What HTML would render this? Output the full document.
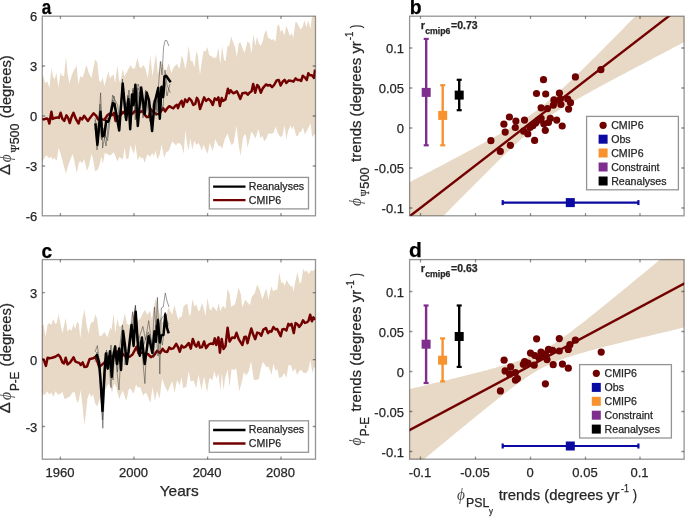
<!DOCTYPE html><html><head><meta charset="utf-8"><style>html,body{margin:0;padding:0;background:#fff;}svg{display:block;will-change:transform;}text{font-family:"Liberation Sans",sans-serif;fill:#262626;stroke:#262626;stroke-width:0.25px;}.s{font-family:"Liberation Serif",serif;}.k text{fill:#000;stroke:#000;}.p{stroke:none;fill-opacity:0.85;}</style></head><body>
<svg width="685" height="517" viewBox="0 0 685 517">
<defs>
<clipPath id="cla"><rect x="42.3" y="16.2" width="273.2" height="199.6"/></clipPath>
<clipPath id="clc"><rect x="42.3" y="259.6" width="273.2" height="199.6"/></clipPath>
<clipPath id="clb"><rect x="409.6" y="16.2" width="274.5" height="199.6"/></clipPath>
<clipPath id="cld"><rect x="409.6" y="259.6" width="274.5" height="199.6"/></clipPath>
</defs>
<g clip-path="url(#cla)">
<polygon points="42.0,74.9 43.5,77.0 45.1,83.1 46.6,82.1 47.6,81.8 49.4,87.9 51.4,68.3 53.0,76.5 54.5,79.5 56.5,72.9 58.4,87.7 60.4,72.9 62.4,75.9 64.0,75.9 66.0,56.5 67.5,72.4 69.4,83.6 71.6,75.4 73.9,70.3 76.7,65.7 78.3,84.6 80.3,75.9 82.4,78.0 84.1,72.9 86.5,64.7 89.0,73.4 91.6,78.0 93.1,69.8 95.1,59.6 97.2,62.2 99.2,80.5 100.8,82.6 102.8,77.5 104.3,86.2 108.4,71.4 110.0,78.7 111.0,76.7 113.6,74.6 115.1,82.8 117.4,64.9 119.0,79.7 120.2,82.8 122.8,69.0 124.3,76.2 126.9,72.1 130.4,64.9 133.0,69.0 135.0,68.0 137.4,57.8 139.6,67.0 141.2,68.0 143.2,64.9 145.3,68.0 147.8,78.2 150.4,55.2 152.4,76.2 156.0,53.7 158.0,74.6 161.1,60.8 163.1,64.4 165.2,73.6 168.8,62.9 171.3,73.1 173.9,67.0 176.9,63.9 179.5,68.9 181.6,55.7 183.1,58.7 185.4,69.5 187.2,58.7 188.7,45.4 190.8,61.8 192.3,60.3 194.4,67.4 196.4,51.1 197.9,55.7 200.0,75.0 201.5,63.8 203.5,51.1 205.6,51.6 207.4,47.0 209.2,55.1 211.2,56.2 213.8,57.7 216.3,57.7 218.4,48.0 220.4,64.3 222.1,45.9 224.0,59.7 225.5,61.3 227.6,45.4 229.1,46.5 231.1,36.2 233.7,43.9 235.2,47.5 236.8,57.2 238.8,42.9 240.3,42.4 244.4,53.1 246.0,47.8 247.5,41.2 249.6,43.2 251.6,53.4 253.4,34.0 255.4,45.8 257.0,36.6 258.5,42.7 260.5,45.8 262.9,40.7 264.4,33.5 266.4,29.9 268.0,38.1 270.0,38.6 271.5,40.1 273.6,39.1 275.6,41.7 277.2,26.3 278.9,24.3 280.7,32.0 282.3,29.4 284.3,35.5 286.4,25.8 288.4,31.5 289.9,36.1 291.8,33.0 293.2,38.1 295.6,21.8 297.1,22.8 300.2,28.9 302.2,27.9 304.5,20.2 306.3,27.4 308.3,20.2 310.4,28.9 311.9,17.2 313.4,16.1 315.5,16.1 315.5,133.5 314.5,134.5 312.2,137.1 310.6,123.3 307.8,128.9 304.8,134.5 302.9,126.9 301.4,131.5 299.6,132.0 297.6,136.6 296.1,135.5 293.5,125.8 292.0,129.9 290.7,125.3 287.9,131.5 286.4,140.1 284.6,125.3 282.3,136.1 280.2,137.1 277.7,133.0 275.6,126.4 273.6,133.0 271.0,133.7 268.3,133.5 266.4,138.6 264.4,141.2 262.4,136.1 260.3,138.1 258.5,128.9 255.4,138.6 253.4,134.5 251.3,131.5 249.6,139.6 247.5,147.8 246.0,135.5 244.6,133.9 242.9,138.5 240.5,155.9 238.8,145.7 236.5,125.7 233.7,143.1 231.6,145.1 229.6,140.5 227.6,133.4 225.0,138.5 222.1,148.7 220.4,145.7 218.9,146.2 217.3,143.6 215.3,139.0 212.7,151.3 209.7,143.1 207.6,153.8 205.6,149.7 203.5,144.6 201.7,150.8 200.0,145.7 198.4,143.1 196.4,145.1 194.3,140.5 192.3,149.7 190.3,138.0 188.7,150.3 187.2,144.6 185.4,130.3 183.6,153.8 181.6,145.7 180.0,143.6 178.0,143.1 175.9,145.3 172.3,141.2 169.3,149.4 168.0,151.5 166.2,152.0 164.2,158.1 161.6,144.8 159.6,154.5 157.5,159.6 155.5,150.4 153.9,156.1 152.1,153.0 150.1,157.1 148.3,154.5 146.8,155.5 144.7,162.7 142.9,157.6 141.2,158.6 139.6,156.1 137.6,160.7 135.5,144.3 134.0,154.0 132.5,150.4 130.4,145.3 128.4,158.6 126.3,159.1 124.6,147.4 122.8,159.6 121.0,158.1 119.4,157.1 117.4,161.2 115.6,156.6 113.6,152.0 111.5,154.5 109.4,155.4 107.4,153.9 104.8,152.9 102.8,164.1 101.3,156.5 99.7,164.6 97.7,169.7 95.1,171.3 93.1,159.5 91.6,153.4 89.0,165.7 87.0,170.8 84.1,159.0 82.1,163.6 80.3,161.1 78.8,163.1 76.7,173.3 74.5,161.6 72.7,153.9 70.1,160.5 68.1,165.7 66.0,173.8 64.0,166.7 62.4,160.5 60.4,152.9 58.6,147.8 56.8,160.5 55.5,159.5 54.1,157.5 52.7,160.0 51.2,156.5 49.4,158.5 47.6,156.5 46.1,155.4 43.5,159.5 42.0,162.6" fill="#E7D9C5"/>
<polyline points="42.0,118.9 44.0,119.4 46.6,118.4 48.1,119.4 49.4,123.5 51.4,111.8 52.7,118.9 54.8,117.9 57.3,117.4 58.9,117.9 60.6,112.8 62.4,118.9 64.3,120.9 66.5,115.3 68.1,117.9 69.8,123.0 71.6,116.9 73.5,112.8 75.2,117.4 76.7,120.4 78.6,123.5 80.3,117.9 82.1,119.4 84.1,115.8 85.7,117.9 88.0,120.9 90.0,117.9 93.6,113.3 96.2,115.8 98.0,119.4 100.2,117.9 102.3,119.4 104.3,119.9 107.4,115.3 109.4,113.8 112.0,115.3 114.1,112.9 115.6,121.0 118.0,116.5 120.2,115.4 123.3,111.9 126.0,115.0 129.0,112.0 132.0,114.0 135.0,111.0 138.0,113.0 140.7,111.9 142.7,110.8 144.7,114.9 146.8,117.0 148.8,117.0 150.9,109.3 153.5,112.0 156.0,113.9 159.0,113.9 163.1,108.3 165.2,111.4 167.2,108.3 169.3,106.2 171.3,107.3 173.4,108.3 175.4,105.7 176.9,104.7 178.0,108.1 179.5,104.0 181.6,100.9 183.1,106.6 185.2,99.4 187.2,102.0 189.2,98.4 191.3,100.4 193.3,105.0 195.2,104.0 196.9,97.9 198.4,100.4 200.0,109.1 202.0,103.5 204.1,97.4 206.1,100.9 208.5,98.9 210.7,100.9 212.7,105.0 214.8,98.4 216.6,99.9 218.4,97.4 219.9,106.1 221.7,97.9 223.0,100.9 225.5,99.4 227.9,88.7 229.1,93.3 230.6,90.2 233.2,93.3 234.7,92.8 236.8,91.2 238.3,94.3 240.3,98.9 242.4,93.3 245.4,92.8 246.0,92.7 247.8,94.7 250.1,92.2 251.6,91.2 253.2,84.0 255.2,92.7 257.2,85.0 258.8,86.6 260.8,92.7 262.9,88.1 265.9,84.5 268.0,85.5 270.0,85.0 272.1,87.1 274.1,85.0 276.7,80.4 278.7,79.9 280.7,85.5 282.8,81.5 284.6,79.9 286.4,83.0 288.9,80.4 291.5,80.9 293.5,81.5 295.6,78.4 297.6,79.9 299.6,79.9 301.2,80.9 302.7,75.8 304.8,77.4 306.8,79.9 308.3,73.3 309.9,75.3 311.9,75.3 314.0,77.9 315.0,69.7" fill="none" stroke="#730000" stroke-width="2.5" stroke-linejoin="round"/>
<polyline points="95.0,128.0 97.0,140.0 99.0,118.0 100.6,92.8 102.0,125.0 102.6,148.1 105.0,135.0 107.6,140.6 110.0,120.0 112.6,95.0 115.0,100.0 117.7,105.4 120.0,125.0 122.4,79.0 124.5,108.0 127.0,102.0 129.0,90.0 131.0,115.0 133.0,90.0 135.5,110.0 138.0,88.0 141.0,95.0 143.0,110.0 146.0,95.0 148.0,110.0 150.0,122.0 152.0,108.0 154.0,100.0 156.0,110.0 158.0,92.0 160.4,61.4 162.0,75.0 163.6,47.0 165.1,40.6 166.8,40.6 168.9,46.0" fill="none" stroke="#333" stroke-opacity="0.7" stroke-width="0.7" stroke-linejoin="round"/>
<polyline points="95.0,120.0 97.0,150.0 99.5,124.0 101.5,140.0 103.0,128.0 105.0,138.0 107.0,118.0 109.0,120.0 111.0,110.0 113.0,100.0 115.0,106.0 117.0,118.0 119.0,130.0 121.0,112.0 122.8,86.0 125.0,118.0 128.0,96.0 130.5,122.0 133.0,88.0 135.3,120.0 138.0,84.0 141.0,92.0 143.0,118.0 145.5,90.0 148.0,100.0 150.0,119.0 152.0,128.0 154.0,106.0 156.2,116.0 158.0,95.0 160.5,118.0 162.0,85.0 163.8,98.0 165.0,82.0 167.0,96.0 169.0,88.0 170.0,84.0" fill="none" stroke="#333" stroke-opacity="0.7" stroke-width="0.7" stroke-linejoin="round"/>
<polyline points="95.0,118.0 97.5,130.0 100.0,104.0 103.0,130.0 106.0,146.0 108.0,128.0 111.0,106.0 114.0,96.0 116.0,110.0 119.0,120.0 121.0,100.0 123.0,90.0 126.0,112.0 128.0,95.0 131.0,125.0 134.0,92.0 136.0,118.0 139.0,92.0 142.0,100.0 144.0,115.0 147.0,96.0 150.0,105.0 153.0,125.0 156.0,100.0 158.0,112.0 160.0,98.0 163.0,110.0 165.0,70.0 167.0,85.0 170.4,92.8" fill="none" stroke="#333" stroke-opacity="0.7" stroke-width="0.7" stroke-linejoin="round"/>
<polyline points="95.4,123.3 97.4,145.0 100.5,111.8 102.4,136.5 104.2,135.0 106.2,121.0 108.2,121.8 110.1,116.4 112.9,103.2 114.5,104.0 119.2,130.5 122.7,83.5 126.2,120.0 128.5,99.2 130.2,129.3 132.0,94.6 133.5,105.0 135.4,84.7 137.8,125.9 141.2,87.6 144.7,114.3 146.7,92.5 149.0,100.2 152.1,131.1 154.4,103.3 156.4,95.6 158.3,87.8 159.8,118.8 161.4,87.1 162.9,97.1 163.6,92.0 164.4,76.5 166.1,75.8 170.7,82.2" fill="none" stroke="#000" stroke-width="2.5" stroke-linejoin="round"/>
</g>
<g clip-path="url(#clc)">
<polygon points="42.0,325.5 43.5,324.5 45.6,336.8 47.6,324.5 49.7,323.0 51.4,325.0 53.2,318.9 55.3,324.0 56.8,323.0 58.6,314.3 60.4,323.5 62.4,333.2 65.7,317.9 67.5,331.7 69.4,329.1 71.6,330.7 73.5,324.0 75.2,329.1 77.3,321.5 78.8,324.0 80.3,338.3 82.4,318.9 84.4,309.2 86.5,324.5 88.5,333.7 90.5,324.0 92.1,322.0 93.6,322.0 95.3,314.3 97.2,319.4 99.2,335.8 101.8,335.8 104.3,331.7 107.4,337.3 110.3,327.6 111.5,329.9 113.6,313.5 115.3,332.9 117.4,318.6 119.2,326.8 121.2,325.8 122.8,322.7 124.8,313.0 126.9,323.7 129.9,325.3 132.0,312.0 133.5,315.5 135.5,312.0 138.1,320.7 140.7,318.1 142.7,313.5 145.0,310.0 147.4,314.8 150.1,310.7 151.8,319.5 153.8,307.3 155.8,298.5 158.2,308.7 159.9,314.8 161.9,322.0 166.0,322.0 167.3,312.1 168.3,307.3 172.1,314.8 174.4,305.3 178.2,320.0 180.0,317.0 181.8,316.5 183.6,306.3 185.3,304.7 187.2,303.2 189.4,316.0 190.7,313.9 192.5,299.1 194.3,306.3 196.4,304.7 198.4,311.4 199.9,309.9 202.0,302.7 203.5,307.8 205.5,316.0 207.4,298.1 209.6,308.8 211.2,310.4 212.7,306.3 214.7,308.3 216.8,311.4 218.6,302.7 220.4,311.4 222.1,306.8 223.7,306.3 225.5,309.3 227.5,288.9 229.6,293.5 231.1,306.8 234.7,304.7 236.2,299.6 238.5,287.4 240.8,294.0 242.3,307.3 245.4,299.6 247.0,302.0 250.1,305.0 251.6,296.9 254.7,293.3 257.2,284.6 259.3,288.7 262.4,299.5 264.4,293.3 266.4,288.2 268.3,299.5 271.5,286.2 273.1,291.3 275.6,289.7 277.2,289.7 279.2,272.4 281.3,283.1 282.8,282.1 284.6,285.7 286.7,280.0 288.9,284.1 291.0,286.2 292.5,286.7 293.5,291.8 295.6,280.0 297.6,271.9 299.6,283.6 301.2,282.1 303.2,268.8 305.1,271.9 306.8,270.3 308.5,273.9 311.4,270.3 313.4,271.3 315.5,267.8 315.5,368.8 314.3,366.8 312.4,372.9 310.4,360.1 308.3,369.9 306.3,372.9 303.7,372.9 301.2,369.9 299.1,370.9 297.1,375.0 295.1,368.3 293.0,371.9 291.0,365.3 288.4,365.3 286.4,378.0 284.3,372.9 281.8,377.0 279.2,378.0 277.2,368.8 275.6,370.9 273.4,363.7 271.5,375.0 270.0,369.9 268.0,366.3 266.4,367.3 264.9,364.7 262.9,361.7 260.8,368.8 258.8,379.0 256.2,380.0 253.7,379.6 251.1,361.2 248.6,371.9 246.0,375.5 243.9,372.1 241.9,381.3 239.3,391.5 236.2,368.5 233.7,370.0 231.6,369.0 229.6,386.9 227.6,369.5 225.0,378.7 223.5,390.0 221.9,372.6 220.4,391.0 218.4,373.6 216.3,378.7 214.3,371.1 212.2,380.8 210.7,378.2 209.2,378.7 207.1,392.5 204.1,376.2 201.5,390.0 198.4,374.6 196.4,387.9 193.3,380.3 190.8,381.8 188.7,371.1 186.2,386.9 183.1,387.9 181.6,377.2 179.5,385.4 178.0,381.8 176.9,380.4 174.6,392.7 172.3,380.9 167.7,391.7 164.7,386.1 162.1,378.4 159.6,398.8 157.0,390.7 155.0,400.9 152.4,387.1 150.4,402.9 146.8,393.7 145.3,392.7 143.2,395.8 140.1,387.1 137.6,387.6 136.1,384.5 133.5,393.7 130.4,388.6 128.9,389.1 126.3,400.9 122.8,390.7 121.2,393.7 119.2,399.3 116.1,386.6 114.1,383.5 112.0,392.7 110.0,385.5 108.4,384.1 105.4,389.2 103.0,392.0 100.8,395.0 99.2,400.4 97.2,406.6 95.1,403.5 93.1,394.3 91.1,396.9 89.5,392.8 87.5,398.4 85.9,413.7 84.4,425.0 82.4,405.0 80.6,390.2 78.8,400.4 77.3,403.0 74.7,392.3 72.7,392.3 70.1,396.3 68.6,396.9 66.5,398.4 64.5,398.9 62.4,391.8 59.4,394.8 57.3,393.8 55.5,391.2 53.2,396.9 51.2,392.3 49.4,394.8 47.3,391.2 45.6,393.8 44.0,395.3 42.0,393.3" fill="#E7D9C5"/>
<polyline points="42.0,359.3 43.8,359.8 45.9,365.9 47.6,357.8 49.7,358.3 52.2,357.8 55.3,356.8 58.4,354.7 60.4,357.3 62.4,362.4 64.0,363.4 65.7,357.8 67.5,364.4 70.1,362.4 71.6,360.3 73.5,357.3 75.2,361.3 77.3,362.4 79.3,362.9 80.8,364.9 82.7,362.4 84.4,367.0 87.0,366.5 89.5,359.3 91.1,358.8 93.1,358.3 94.6,357.3 96.7,359.3 99.2,367.0 102.3,364.4 105.0,362.0 108.0,357.0 110.0,356.6 114.1,356.6 117.7,351.5 122.3,353.5 125.0,356.0 127.9,357.1 129.9,356.6 132.5,354.5 136.6,346.9 138.6,353.5 141.7,352.5 144.7,354.0 147.8,354.0 150.9,357.1 153.9,355.5 157.0,350.9 160.1,353.0 162.6,348.9 164.7,351.5 167.2,352.0 169.3,347.4 171.3,348.9 173.4,348.4 176.2,343.8 178.0,347.1 179.8,351.7 181.6,345.5 183.6,347.6 185.7,346.6 188.7,343.0 190.8,348.6 192.8,338.9 194.9,345.0 196.4,346.6 198.4,342.0 200.0,347.6 202.0,347.1 204.1,341.5 206.1,348.1 208.7,344.5 210.7,343.5 213.3,344.0 214.8,338.4 216.3,345.0 218.4,337.4 219.9,352.7 221.7,338.9 223.5,349.1 225.5,346.1 227.6,327.7 229.6,341.5 232.2,337.4 234.7,337.9 236.5,332.8 238.8,339.4 242.4,345.0 244.4,336.9 246.0,336.7 247.5,343.3 249.6,334.6 251.3,328.5 253.2,334.6 255.2,339.2 257.2,332.6 259.3,333.1 261.3,335.7 263.4,329.5 265.9,328.0 268.0,333.1 270.0,331.1 271.5,331.6 273.4,327.0 275.6,329.5 277.2,329.0 278.7,332.1 280.7,336.2 282.3,329.5 284.3,329.0 286.4,330.5 288.4,323.9 289.9,325.4 291.5,323.9 293.8,333.1 295.6,322.9 297.6,324.4 299.1,327.0 301.2,324.4 303.0,320.3 304.8,322.9 306.8,322.4 308.5,320.8 310.2,314.7 311.9,321.3 313.4,317.3 315.0,319.8" fill="none" stroke="#730000" stroke-width="2.5" stroke-linejoin="round"/>
<polyline points="95.0,352.0 97.4,345.6 100.0,368.0 102.8,428.3 105.0,380.0 107.0,352.0 109.0,362.0 111.0,387.6 113.0,352.0 115.0,345.0 117.0,372.0 119.0,390.0 121.0,352.0 123.0,332.0 125.0,350.0 127.0,365.0 129.0,350.0 132.7,311.7 135.0,330.0 138.0,345.0 141.0,340.0 144.9,383.6 147.0,338.0 150.0,334.0 152.0,350.0 154.5,307.0 156.0,330.0 157.4,297.4 158.6,330.0 159.8,374.0 161.3,308.0 163.2,307.0 165.3,293.0 167.1,301.3 169.0,307.0" fill="none" stroke="#333" stroke-opacity="0.7" stroke-width="0.7" stroke-linejoin="round"/>
<polyline points="95.0,362.0 97.0,352.0 99.0,365.0 102.5,420.0 104.8,372.0 106.2,358.0 108.5,360.0 110.5,356.0 112.5,370.0 114.6,352.0 117.5,364.0 120.3,356.0 122.7,338.0 125.2,352.0 127.7,358.0 130.0,345.0 132.7,330.0 135.4,306.3 137.3,332.0 140.3,348.0 143.3,346.0 145.3,340.0 148.3,332.0 150.3,340.0 153.4,342.0 155.4,336.0 158.2,318.0 159.9,336.0 162.4,345.0 165.4,320.0 168.5,326.0" fill="none" stroke="#333" stroke-opacity="0.7" stroke-width="0.7" stroke-linejoin="round"/>
<polyline points="95.0,356.0 97.5,360.0 100.0,362.0 102.3,405.0 104.5,365.0 106.5,350.0 109.0,368.0 111.0,345.0 113.0,380.0 115.0,345.0 117.5,372.0 120.0,345.0 122.5,325.0 125.0,365.0 128.0,350.0 130.5,335.0 133.0,322.0 135.5,305.0 137.5,345.0 140.0,335.0 142.9,326.4 145.5,340.0 148.7,320.6 150.5,335.0 153.5,358.0 155.5,325.0 158.0,356.0 160.0,322.0 162.0,318.0 163.8,316.0 165.3,312.0 166.5,320.0 168.5,324.0" fill="none" stroke="#333" stroke-opacity="0.7" stroke-width="0.7" stroke-linejoin="round"/>
<polyline points="95.5,357.0 97.0,355.0 99.0,362.0 100.5,380.0 102.5,411.0 104.5,372.0 105.9,353.6 107.7,368.7 110.0,351.3 111.7,376.8 113.5,355.0 115.2,346.7 116.9,364.0 119.2,348.4 121.0,369.9 123.1,331.0 125.0,345.5 126.8,364.0 128.5,352.0 131.5,325.1 133.6,346.0 135.7,311.8 138.0,346.0 139.8,355.7 141.9,337.6 144.7,364.1 148.6,336.2 152.4,352.9 154.5,331.3 155.9,341.8 157.9,320.2 159.8,342.5 161.4,335.5 163.5,334.8 165.3,314.6 167.0,327.9 168.7,333.4" fill="none" stroke="#000" stroke-width="2.5" stroke-linejoin="round"/>
</g>
<g clip-path="url(#clb)">
<polygon points="407.6,183.3 409.6,182.2 411.6,181.2 413.6,180.1 415.6,179.1 417.6,178.0 419.6,177.0 421.6,175.9 423.6,174.9 425.6,173.8 427.6,172.8 429.6,171.7 431.6,170.7 433.6,169.6 435.6,168.6 437.6,167.5 439.6,166.5 441.6,165.4 443.6,164.4 445.6,163.3 447.6,162.2 449.6,161.2 451.6,160.1 453.6,159.1 455.6,158.0 457.6,156.9 459.6,155.9 461.6,154.8 463.6,153.7 465.6,152.7 467.6,151.6 469.6,150.5 471.6,149.4 473.6,148.4 475.6,147.3 477.6,146.2 479.6,145.1 481.6,144.0 483.6,142.9 485.6,141.8 487.6,140.7 489.6,139.6 491.6,138.5 493.6,137.4 495.6,136.3 497.6,135.2 499.6,134.0 501.6,132.9 503.6,131.8 505.6,130.6 507.6,129.4 509.6,128.3 511.6,127.1 513.6,125.9 515.6,124.6 517.6,123.4 519.6,122.1 521.6,120.9 523.6,119.6 525.6,118.3 527.6,116.9 529.6,115.5 531.6,114.1 533.6,112.7 535.6,111.2 537.6,109.8 539.6,108.2 541.6,106.7 543.6,105.1 545.6,103.4 547.6,101.8 549.6,100.1 551.6,98.3 553.6,96.6 555.6,94.8 557.6,93.0 559.6,91.2 561.6,89.4 563.6,87.5 565.6,85.6 567.6,83.7 569.6,81.8 571.6,79.9 573.6,78.0 575.6,76.1 577.6,74.1 579.6,72.2 581.6,70.2 583.6,68.3 585.6,66.3 587.6,64.3 589.6,62.3 591.6,60.3 593.6,58.4 595.6,56.4 597.6,54.4 599.6,52.4 601.6,50.4 603.6,48.4 605.6,46.3 607.6,44.3 609.6,42.3 611.6,40.3 613.6,38.3 615.6,36.3 617.6,34.2 619.6,32.2 621.6,30.2 623.6,28.2 625.6,26.1 627.6,24.1 629.6,22.1 631.6,20.1 633.6,18.0 635.6,16.0 637.6,14.0 639.6,11.9 641.6,9.9 643.6,7.9 645.6,5.8 647.6,3.8 649.6,1.7 651.6,-0.3 653.6,-2.3 655.6,-4.4 657.6,-6.4 659.6,-8.5 661.6,-10.5 663.6,-12.5 665.6,-14.6 667.6,-16.6 669.6,-18.7 671.6,-20.7 673.6,-22.8 675.6,-24.8 677.6,-26.8 679.6,-28.9 681.6,-30.9 683.6,-33.0 685.6,-35.0 685.6,41.4 683.6,42.4 681.6,43.5 679.6,44.5 677.6,45.6 675.6,46.6 673.6,47.6 671.6,48.7 669.6,49.7 667.6,50.8 665.6,51.8 663.6,52.9 661.6,53.9 659.6,55.0 657.6,56.0 655.6,57.1 653.6,58.1 651.6,59.2 649.6,60.2 647.6,61.3 645.6,62.3 643.6,63.4 641.6,64.4 639.6,65.5 637.6,66.5 635.6,67.6 633.6,68.6 631.6,69.7 629.6,70.8 627.6,71.8 625.6,72.9 623.6,73.9 621.6,75.0 619.6,76.1 617.6,77.1 615.6,78.2 613.6,79.3 611.6,80.3 609.6,81.4 607.6,82.5 605.6,83.6 603.6,84.6 601.6,85.7 599.6,86.8 597.6,87.9 595.6,89.0 593.6,90.1 591.6,91.2 589.6,92.3 587.6,93.4 585.6,94.5 583.6,95.6 581.6,96.8 579.6,97.9 577.6,99.0 575.6,100.2 573.6,101.3 571.6,102.5 569.6,103.7 567.6,104.9 565.6,106.1 563.6,107.3 561.6,108.5 559.6,109.8 557.6,111.0 555.6,112.3 553.6,113.6 551.6,115.0 549.6,116.3 547.6,117.7 545.6,119.2 543.6,120.6 541.6,122.1 539.6,123.6 537.6,125.2 535.6,126.8 533.6,128.4 531.6,130.1 529.6,131.7 527.6,133.5 525.6,135.2 523.6,137.0 521.6,138.8 519.6,140.6 517.6,142.4 515.6,144.3 513.6,146.1 511.6,148.0 509.6,149.9 507.6,151.8 505.6,153.8 503.6,155.7 501.6,157.6 499.6,159.6 497.6,161.5 495.6,163.5 493.6,165.5 491.6,167.4 489.6,169.4 487.6,171.4 485.6,173.4 483.6,175.4 481.6,177.4 479.6,179.4 477.6,181.4 475.6,183.4 473.6,185.4 471.6,187.4 469.6,189.4 467.6,191.4 465.6,193.5 463.6,195.5 461.6,197.5 459.6,199.5 457.6,201.5 455.6,203.6 453.6,205.6 451.6,207.6 449.6,209.7 447.6,211.7 445.6,213.7 443.6,215.8 441.6,217.8 439.6,219.8 437.6,221.9 435.6,223.9 433.6,225.9 431.6,228.0 429.6,230.0 427.6,232.0 425.6,234.1 423.6,236.1 421.6,238.2 419.6,240.2 417.6,242.2 415.6,244.3 413.6,246.3 411.6,248.4 409.6,250.4 407.6,252.5" fill="#E7D9C5"/>
<line x1="407.6" y1="217.9" x2="686.1" y2="2.8" stroke="#730000" stroke-width="2.4"/>
<circle cx="543.5" cy="79.7" r="3.6" fill="#6E0000"/>
<circle cx="575.4" cy="76.9" r="3.6" fill="#6E0000"/>
<circle cx="600.9" cy="69.7" r="3.6" fill="#6E0000"/>
<circle cx="536.5" cy="93.5" r="3.6" fill="#6E0000"/>
<circle cx="545.7" cy="94.0" r="3.6" fill="#6E0000"/>
<circle cx="559.4" cy="93.1" r="3.6" fill="#6E0000"/>
<circle cx="553.9" cy="99.9" r="3.6" fill="#6E0000"/>
<circle cx="560.4" cy="99.0" r="3.6" fill="#6E0000"/>
<circle cx="567.7" cy="99.0" r="3.6" fill="#6E0000"/>
<circle cx="570.5" cy="102.7" r="3.6" fill="#6E0000"/>
<circle cx="553.4" cy="105.1" r="3.6" fill="#6E0000"/>
<circle cx="560.9" cy="104.5" r="3.6" fill="#6E0000"/>
<circle cx="568.6" cy="109.1" r="3.6" fill="#6E0000"/>
<circle cx="541.1" cy="107.8" r="3.6" fill="#6E0000"/>
<circle cx="547.5" cy="108.6" r="3.6" fill="#6E0000"/>
<circle cx="509.4" cy="117.0" r="3.6" fill="#6E0000"/>
<circle cx="515.9" cy="121.1" r="3.6" fill="#6E0000"/>
<circle cx="524.5" cy="120.1" r="3.6" fill="#6E0000"/>
<circle cx="503.9" cy="124.2" r="3.6" fill="#6E0000"/>
<circle cx="515.3" cy="127.5" r="3.6" fill="#6E0000"/>
<circle cx="505.2" cy="132.1" r="3.6" fill="#6E0000"/>
<circle cx="523.6" cy="131.2" r="3.6" fill="#6E0000"/>
<circle cx="527.8" cy="133.9" r="3.6" fill="#6E0000"/>
<circle cx="530.0" cy="127.5" r="3.6" fill="#6E0000"/>
<circle cx="535.6" cy="122.9" r="3.6" fill="#6E0000"/>
<circle cx="541.1" cy="118.3" r="3.6" fill="#6E0000"/>
<circle cx="543.8" cy="123.8" r="3.6" fill="#6E0000"/>
<circle cx="550.3" cy="118.3" r="3.6" fill="#6E0000"/>
<circle cx="556.7" cy="120.1" r="3.6" fill="#6E0000"/>
<circle cx="548.4" cy="122.5" r="3.6" fill="#6E0000"/>
<circle cx="545.3" cy="130.3" r="3.6" fill="#6E0000"/>
<circle cx="562.2" cy="126.0" r="3.6" fill="#6E0000"/>
<circle cx="490.9" cy="140.7" r="3.6" fill="#6E0000"/>
<circle cx="510.4" cy="145.3" r="3.6" fill="#6E0000"/>
<circle cx="534.6" cy="140.4" r="3.6" fill="#6E0000"/>
<circle cx="500.3" cy="151.4" r="3.6" fill="#6E0000"/>
<circle cx="538.3" cy="120.1" r="3.6" fill="#6E0000"/>
<circle cx="532.8" cy="125.7" r="3.6" fill="#6E0000"/>
<line x1="426.2" y1="38.9" x2="426.2" y2="145.3" stroke="#7E2F8E" stroke-width="2.4"/>
<rect x="423.7" y="37.8" width="5" height="2.2" fill="#7E2F8E"/>
<rect x="423.7" y="144.2" width="5" height="2.2" fill="#7E2F8E"/>
<rect x="421.7" y="87.9" width="9" height="9" fill="#7E2F8E"/>
<line x1="442.7" y1="85.2" x2="442.7" y2="145.3" stroke="#F7922E" stroke-width="2.4"/>
<rect x="440.2" y="84.1" width="5" height="2.2" fill="#F7922E"/>
<rect x="440.2" y="144.2" width="5" height="2.2" fill="#F7922E"/>
<rect x="438.2" y="110.9" width="9" height="9" fill="#F7922E"/>
<line x1="459.2" y1="79.8" x2="459.2" y2="110.2" stroke="#000" stroke-width="2.4"/>
<rect x="456.7" y="78.7" width="5" height="2.2" fill="#000"/>
<rect x="456.7" y="109.1" width="5" height="2.2" fill="#000"/>
<rect x="454.7" y="90.6" width="9" height="9" fill="#000"/>
<line x1="502.7" y1="202.6" x2="638.4" y2="202.6" stroke="#0A0AA3" stroke-width="2.2"/>
<rect x="501.6" y="200.1" width="2.2" height="5" fill="#0A0AA3"/>
<rect x="637.3" y="200.1" width="2.2" height="5" fill="#0A0AA3"/>
<rect x="565.8" y="198.1" width="9" height="9" fill="#0A0AA3"/>
</g>
<text x="420.78" y="28.80" font-size="10" font-weight="bold" textLength="4.28" lengthAdjust="spacingAndGlyphs">r</text><text x="425.24" y="33.90" font-size="8.5" font-weight="bold" textLength="25.08" lengthAdjust="spacingAndGlyphs">cmip6</text><text x="451.08" y="28.80" font-size="10" font-weight="bold" textLength="26.44" lengthAdjust="spacingAndGlyphs">=0.73</text>
<g clip-path="url(#cld)">
<polygon points="407.6,389.5 409.6,389.1 411.6,388.6 413.6,388.1 415.6,387.6 417.6,387.2 419.6,386.7 421.6,386.2 423.6,385.7 425.6,385.2 427.6,384.8 429.6,384.3 431.6,383.8 433.6,383.3 435.6,382.8 437.6,382.4 439.6,381.9 441.6,381.4 443.6,380.9 445.6,380.4 447.6,379.9 449.6,379.5 451.6,379.0 453.6,378.5 455.6,378.0 457.6,377.5 459.6,377.0 461.6,376.5 463.6,376.0 465.6,375.5 467.6,375.0 469.6,374.5 471.6,374.0 473.6,373.5 475.6,373.0 477.6,372.5 479.6,372.0 481.6,371.4 483.6,370.9 485.6,370.4 487.6,369.9 489.6,369.3 491.6,368.8 493.6,368.2 495.6,367.7 497.6,367.1 499.6,366.6 501.6,366.0 503.6,365.4 505.6,364.9 507.6,364.3 509.6,363.7 511.6,363.0 513.6,362.4 515.6,361.8 517.6,361.1 519.6,360.4 521.6,359.7 523.6,359.0 525.6,358.2 527.6,357.5 529.6,356.6 531.6,355.8 533.6,354.9 535.6,354.0 537.6,353.1 539.6,352.1 541.6,351.0 543.6,349.9 545.6,348.8 547.6,347.7 549.6,346.4 551.6,345.2 553.6,343.9 555.6,342.6 557.6,341.3 559.6,339.9 561.6,338.5 563.6,337.1 565.6,335.6 567.6,334.2 569.6,332.7 571.6,331.2 573.6,329.7 575.6,328.1 577.6,326.6 579.6,325.1 581.6,323.5 583.6,321.9 585.6,320.4 587.6,318.8 589.6,317.2 591.6,315.6 593.6,314.0 595.6,312.4 597.6,310.8 599.6,309.2 601.6,307.6 603.6,306.0 605.6,304.3 607.6,302.7 609.6,301.1 611.6,299.5 613.6,297.8 615.6,296.2 617.6,294.6 619.6,292.9 621.6,291.3 623.6,289.6 625.6,288.0 627.6,286.4 629.6,284.7 631.6,283.1 633.6,281.4 635.6,279.8 637.6,278.1 639.6,276.5 641.6,274.8 643.6,273.2 645.6,271.5 647.6,269.9 649.6,268.2 651.6,266.6 653.6,264.9 655.6,263.3 657.6,261.6 659.6,259.9 661.6,258.3 663.6,256.6 665.6,255.0 667.6,253.3 669.6,251.6 671.6,250.0 673.6,248.3 675.6,246.7 677.6,245.0 679.6,243.3 681.6,241.7 683.6,240.0 685.6,238.4 685.6,327.1 683.6,327.6 681.6,328.1 679.6,328.5 677.6,329.0 675.6,329.5 673.6,329.9 671.6,330.4 669.6,330.9 667.6,331.4 665.6,331.9 663.6,332.3 661.6,332.8 659.6,333.3 657.6,333.8 655.6,334.2 653.6,334.7 651.6,335.2 649.6,335.7 647.6,336.2 645.6,336.7 643.6,337.1 641.6,337.6 639.6,338.1 637.6,338.6 635.6,339.1 633.6,339.6 631.6,340.1 629.6,340.5 627.6,341.0 625.6,341.5 623.6,342.0 621.6,342.5 619.6,343.0 617.6,343.5 615.6,344.0 613.6,344.5 611.6,345.0 609.6,345.5 607.6,346.0 605.6,346.6 603.6,347.1 601.6,347.6 599.6,348.1 597.6,348.6 595.6,349.2 593.6,349.7 591.6,350.2 589.6,350.8 587.6,351.3 585.6,351.9 583.6,352.5 581.6,353.0 579.6,353.6 577.6,354.2 575.6,354.8 573.6,355.4 571.6,356.0 569.6,356.7 567.6,357.3 565.6,358.0 563.6,358.7 561.6,359.4 559.6,360.1 557.6,360.9 555.6,361.7 553.6,362.5 551.6,363.4 549.6,364.3 547.6,365.2 545.6,366.2 543.6,367.2 541.6,368.2 539.6,369.3 537.6,370.5 535.6,371.6 533.6,372.9 531.6,374.1 529.6,375.4 527.6,376.7 525.6,378.1 523.6,379.5 521.6,380.9 519.6,382.3 517.6,383.8 515.6,385.3 513.6,386.7 511.6,388.3 509.6,389.8 507.6,391.3 505.6,392.8 503.6,394.4 501.6,396.0 499.6,397.5 497.6,399.1 495.6,400.7 493.6,402.3 491.6,403.9 489.6,405.5 487.6,407.1 485.6,408.7 483.6,410.3 481.6,411.9 479.6,413.5 477.6,415.1 475.6,416.8 473.6,418.4 471.6,420.0 469.6,421.6 467.6,423.3 465.6,424.9 463.6,426.6 461.6,428.2 459.6,429.8 457.6,431.5 455.6,433.1 453.6,434.8 451.6,436.4 449.6,438.1 447.6,439.7 445.6,441.4 443.6,443.0 441.6,444.7 439.6,446.3 437.6,448.0 435.6,449.6 433.6,451.3 431.6,452.9 429.6,454.6 427.6,456.2 425.6,457.9 423.6,459.5 421.6,461.2 419.6,462.9 417.6,464.5 415.6,466.2 413.6,467.8 411.6,469.5 409.6,471.2 407.6,472.8" fill="#E7D9C5"/>
<line x1="407.6" y1="431.2" x2="686.1" y2="282.5" stroke="#730000" stroke-width="2.4"/>
<circle cx="536.6" cy="338.8" r="3.6" fill="#6E0000"/>
<circle cx="559.3" cy="338.6" r="3.6" fill="#6E0000"/>
<circle cx="575.4" cy="340.2" r="3.6" fill="#6E0000"/>
<circle cx="569.9" cy="344.7" r="3.6" fill="#6E0000"/>
<circle cx="568.3" cy="349.4" r="3.6" fill="#6E0000"/>
<circle cx="601.2" cy="352.1" r="3.6" fill="#6E0000"/>
<circle cx="548.5" cy="349.4" r="3.6" fill="#6E0000"/>
<circle cx="552.6" cy="350.4" r="3.6" fill="#6E0000"/>
<circle cx="559.3" cy="351.0" r="3.6" fill="#6E0000"/>
<circle cx="530.5" cy="353.1" r="3.6" fill="#6E0000"/>
<circle cx="534.8" cy="355.5" r="3.6" fill="#6E0000"/>
<circle cx="542.3" cy="356.2" r="3.6" fill="#6E0000"/>
<circle cx="545.4" cy="354.1" r="3.6" fill="#6E0000"/>
<circle cx="547.0" cy="359.6" r="3.6" fill="#6E0000"/>
<circle cx="504.1" cy="360.2" r="3.6" fill="#6E0000"/>
<circle cx="524.6" cy="361.7" r="3.6" fill="#6E0000"/>
<circle cx="528.0" cy="363.1" r="3.6" fill="#6E0000"/>
<circle cx="523.3" cy="364.3" r="3.6" fill="#6E0000"/>
<circle cx="534.2" cy="365.2" r="3.6" fill="#6E0000"/>
<circle cx="553.2" cy="364.7" r="3.6" fill="#6E0000"/>
<circle cx="562.4" cy="364.1" r="3.6" fill="#6E0000"/>
<circle cx="568.3" cy="368.2" r="3.6" fill="#6E0000"/>
<circle cx="510.7" cy="366.8" r="3.6" fill="#6E0000"/>
<circle cx="505.1" cy="370.9" r="3.6" fill="#6E0000"/>
<circle cx="515.4" cy="372.5" r="3.6" fill="#6E0000"/>
<circle cx="509.6" cy="373.9" r="3.6" fill="#6E0000"/>
<circle cx="517.4" cy="378.6" r="3.6" fill="#6E0000"/>
<circle cx="515.4" cy="380.1" r="3.6" fill="#6E0000"/>
<circle cx="545.4" cy="383.8" r="3.6" fill="#6E0000"/>
<circle cx="500.4" cy="390.9" r="3.6" fill="#6E0000"/>
<circle cx="541.0" cy="352.0" r="3.6" fill="#6E0000"/>
<circle cx="539.0" cy="358.0" r="3.6" fill="#6E0000"/>
<line x1="426.1" y1="305.5" x2="426.1" y2="383.0" stroke="#7E2F8E" stroke-width="2.4"/>
<rect x="423.6" y="304.4" width="5" height="2.2" fill="#7E2F8E"/>
<rect x="423.6" y="381.9" width="5" height="2.2" fill="#7E2F8E"/>
<rect x="421.6" y="339.7" width="9" height="9" fill="#7E2F8E"/>
<line x1="442.6" y1="338.4" x2="442.6" y2="381.4" stroke="#F7922E" stroke-width="2.4"/>
<rect x="440.1" y="337.3" width="5" height="2.2" fill="#F7922E"/>
<rect x="440.1" y="380.3" width="5" height="2.2" fill="#F7922E"/>
<rect x="438.1" y="355.7" width="9" height="9" fill="#F7922E"/>
<line x1="459.2" y1="305.5" x2="459.2" y2="366.9" stroke="#000" stroke-width="2.4"/>
<rect x="456.7" y="304.4" width="5" height="2.2" fill="#000"/>
<rect x="456.7" y="365.8" width="5" height="2.2" fill="#000"/>
<rect x="454.7" y="332.0" width="9" height="9" fill="#000"/>
<line x1="502.7" y1="446.0" x2="638.4" y2="446.0" stroke="#0A0AA3" stroke-width="2.2"/>
<rect x="501.6" y="443.5" width="2.2" height="5" fill="#0A0AA3"/>
<rect x="637.3" y="443.5" width="2.2" height="5" fill="#0A0AA3"/>
<rect x="565.8" y="441.5" width="9" height="9" fill="#0A0AA3"/>
</g>
<text x="420.78" y="272.30" font-size="10" font-weight="bold" textLength="4.28" lengthAdjust="spacingAndGlyphs">r</text><text x="425.24" y="277.40" font-size="8.5" font-weight="bold" textLength="25.08" lengthAdjust="spacingAndGlyphs">cmip6</text><text x="451.08" y="272.30" font-size="10" font-weight="bold" textLength="26.44" lengthAdjust="spacingAndGlyphs">=0.63</text>
<rect x="42.3" y="16.2" width="273.2" height="199.6" fill="none" stroke="#000" stroke-width="1.3" stroke-opacity="0.42"/>
<path d="M60.4 215.8v-2.8M60.4 16.2v2.8M134.0 215.8v-2.8M134.0 16.2v2.8M207.6 215.8v-2.8M207.6 16.2v2.8M281.0 215.8v-2.8M281.0 16.2v2.8M42.3 66.0h2.8M315.5 66.0h-2.8M42.3 116.0h2.8M315.5 116.0h-2.8M42.3 166.0h2.8M315.5 166.0h-2.8" stroke="#000" stroke-opacity="0.42" stroke-width="1.3" fill="none"/>
<rect x="42.3" y="259.6" width="273.2" height="199.6" fill="none" stroke="#000" stroke-width="1.3" stroke-opacity="0.42"/>
<path d="M60.4 459.2v-2.8M60.4 259.6v2.8M134.0 459.2v-2.8M134.0 259.6v2.8M207.6 459.2v-2.8M207.6 259.6v2.8M281.0 459.2v-2.8M281.0 259.6v2.8M42.3 292.7h2.8M315.5 292.7h-2.8M42.3 359.6h2.8M315.5 359.6h-2.8M42.3 426.5h2.8M315.5 426.5h-2.8" stroke="#000" stroke-opacity="0.42" stroke-width="1.3" fill="none"/>
<rect x="409.6" y="16.2" width="274.5" height="199.6" fill="none" stroke="#000" stroke-width="1.3" stroke-opacity="0.42"/>
<path d="M420.5 215.8v-2.8M420.5 16.2v2.8M475.5 215.8v-2.8M475.5 16.2v2.8M530.5 215.8v-2.8M530.5 16.2v2.8M585.5 215.8v-2.8M585.5 16.2v2.8M640.0 215.8v-2.8M640.0 16.2v2.8M409.6 48.0h2.8M684.1 48.0h-2.8M409.6 88.0h2.8M684.1 88.0h-2.8M409.6 128.0h2.8M684.1 128.0h-2.8M409.6 168.0h2.8M684.1 168.0h-2.8M409.6 208.0h2.8M684.1 208.0h-2.8" stroke="#000" stroke-opacity="0.42" stroke-width="1.3" fill="none"/>
<rect x="409.6" y="259.6" width="274.5" height="199.6" fill="none" stroke="#000" stroke-width="1.3" stroke-opacity="0.42"/>
<path d="M420.5 459.2v-2.8M420.5 259.6v2.8M475.5 459.2v-2.8M475.5 259.6v2.8M530.5 459.2v-2.8M530.5 259.6v2.8M585.5 459.2v-2.8M585.5 259.6v2.8M640.0 459.2v-2.8M640.0 259.6v2.8M409.6 291.5h2.8M684.1 291.5h-2.8M409.6 331.5h2.8M684.1 331.5h-2.8M409.6 371.5h2.8M684.1 371.5h-2.8M409.6 411.5h2.8M684.1 411.5h-2.8M409.6 451.5h2.8M684.1 451.5h-2.8" stroke="#000" stroke-opacity="0.42" stroke-width="1.3" fill="none"/>
<text x="37.2" y="21.4" font-size="13" text-anchor="end">6</text>
<text x="37.2" y="71.1" font-size="13" text-anchor="end">3</text>
<text x="37.2" y="121.1" font-size="13" text-anchor="end">0</text>
<text x="37.2" y="171.1" font-size="13" text-anchor="end">-3</text>
<text x="37.2" y="221.0" font-size="13" text-anchor="end">-6</text>
<text x="37.2" y="297.8" font-size="13" text-anchor="end">3</text>
<text x="37.2" y="364.7" font-size="13" text-anchor="end">0</text>
<text x="37.2" y="431.6" font-size="13" text-anchor="end">-3</text>
<text x="404.0" y="53.1" font-size="13" text-anchor="end">0.1</text>
<text x="404.0" y="93.1" font-size="13" text-anchor="end">0.05</text>
<text x="404.0" y="133.1" font-size="13" text-anchor="end">0</text>
<text x="404.0" y="173.1" font-size="13" text-anchor="end">-0.05</text>
<text x="404.0" y="213.1" font-size="13" text-anchor="end">-0.1</text>
<text x="404.0" y="296.6" font-size="13" text-anchor="end">0.1</text>
<text x="404.0" y="336.6" font-size="13" text-anchor="end">0.05</text>
<text x="404.0" y="376.6" font-size="13" text-anchor="end">0</text>
<text x="404.0" y="416.6" font-size="13" text-anchor="end">-0.05</text>
<text x="404.0" y="456.6" font-size="13" text-anchor="end">-0.1</text>
<text x="59.9" y="477.3" font-size="13" text-anchor="middle">1960</text>
<text x="133.5" y="477.3" font-size="13" text-anchor="middle">2000</text>
<text x="207.1" y="477.3" font-size="13" text-anchor="middle">2040</text>
<text x="280.5" y="477.3" font-size="13" text-anchor="middle">2080</text>
<text x="420.0" y="477.3" font-size="13" text-anchor="middle">-0.1</text>
<text x="475.0" y="477.3" font-size="13" text-anchor="middle">-0.05</text>
<text x="530.0" y="477.3" font-size="13" text-anchor="middle">0</text>
<text x="585.0" y="477.3" font-size="13" text-anchor="middle">0.05</text>
<text x="639.5" y="477.3" font-size="13" text-anchor="middle">0.1</text>
<g class="k"><text x="41.86" y="13.70" font-size="19.5" font-weight="bold" textLength="9.50" lengthAdjust="spacingAndGlyphs">a</text></g>
<g class="k"><text x="409.76" y="13.70" font-size="19.5" font-weight="bold" textLength="11.85" lengthAdjust="spacingAndGlyphs">b</text></g>
<g class="k"><text x="41.57" y="257.70" font-size="19.5" font-weight="bold" textLength="10.62" lengthAdjust="spacingAndGlyphs">c</text></g>
<g class="k"><text x="409.09" y="257.00" font-size="19.5" font-weight="bold" textLength="12.83" lengthAdjust="spacingAndGlyphs">d</text></g>
<rect x="209.3" y="177.4" width="99.2" height="31.5" fill="#fff" stroke="#000" stroke-opacity="0.42" stroke-width="1.3"/>
<line x1="213.1" y1="186.6" x2="245.5" y2="186.6" stroke="#000" stroke-width="2.4"/>
<line x1="213.1" y1="200.1" x2="245.5" y2="200.1" stroke="#730000" stroke-width="2.4"/>
<text x="248.8" y="189.9" font-size="10.6">Reanalyses</text>
<text x="248.8" y="203.6" font-size="10.6">CMIP6</text>
<rect x="209.3" y="420.8" width="99.2" height="31.5" fill="#fff" stroke="#000" stroke-opacity="0.42" stroke-width="1.3"/>
<line x1="213.1" y1="430.0" x2="245.5" y2="430.0" stroke="#000" stroke-width="2.4"/>
<line x1="213.1" y1="443.5" x2="245.5" y2="443.5" stroke="#730000" stroke-width="2.4"/>
<text x="248.8" y="433.3" font-size="10.6">Reanalyses</text>
<text x="248.8" y="447.0" font-size="10.6">CMIP6</text>
<rect x="586.6" y="116.4" width="91.8" height="73.4" fill="#fff" stroke="#000" stroke-opacity="0.42" stroke-width="1.3"/>
<circle cx="603.1" cy="125.3" r="3.6" fill="#6E0000"/>
<text x="611.2" y="129.0" font-size="10.6">CMIP6</text>
<rect x="598.6" y="134.7" width="9" height="9" fill="#0A0AA3"/>
<text x="611.2" y="142.9" font-size="10.6">Obs</text>
<rect x="598.6" y="148.5" width="9" height="9" fill="#F7922E"/>
<text x="611.2" y="156.7" font-size="10.6">CMIP6</text>
<rect x="598.6" y="162.5" width="9" height="9" fill="#7E2F8E"/>
<text x="611.2" y="170.7" font-size="10.6">Constraint</text>
<rect x="598.6" y="176.5" width="9" height="9" fill="#000"/>
<text x="611.2" y="184.7" font-size="10.6">Reanalyses</text>
<rect x="579.6" y="364.6" width="91.8" height="73.4" fill="#fff" stroke="#000" stroke-opacity="0.42" stroke-width="1.3"/>
<circle cx="596.3" cy="373.3" r="3.6" fill="#6E0000"/>
<text x="604.6" y="377.0" font-size="10.6">CMIP6</text>
<rect x="591.8" y="382.9" width="9" height="9" fill="#0A0AA3"/>
<text x="604.6" y="391.1" font-size="10.6">Obs</text>
<rect x="591.8" y="396.8" width="9" height="9" fill="#F7922E"/>
<text x="604.6" y="405.0" font-size="10.6">CMIP6</text>
<rect x="591.8" y="410.7" width="9" height="9" fill="#7E2F8E"/>
<text x="604.6" y="418.9" font-size="10.6">Constraint</text>
<rect x="591.8" y="424.6" width="9" height="9" fill="#000"/>
<text x="604.6" y="432.8" font-size="10.6">Reanalyses</text>
<text x="159.66" y="495.80" font-size="14.4" textLength="39.02" lengthAdjust="spacingAndGlyphs">Years</text>
<text x="456.96" y="500.00" font-size="16" class="s p" font-style="italic" textLength="7.91" lengthAdjust="spacingAndGlyphs">&#x3d5;</text><text x="466.07" y="507.20" font-size="12" textLength="23.27" lengthAdjust="spacingAndGlyphs">PSL</text><text x="489.10" y="514.30" font-size="9.5" textLength="4.00" lengthAdjust="spacingAndGlyphs">y</text><text x="498.74" y="500.00" font-size="14.2" textLength="120.70" lengthAdjust="spacingAndGlyphs">trends (degrees yr</text><text x="621.09" y="492.20" font-size="11" textLength="7.94" lengthAdjust="spacingAndGlyphs">-1</text><text x="632.87" y="500.00" font-size="14.2" textLength="4.32" lengthAdjust="spacingAndGlyphs">)</text>
<g transform="translate(10.90 175.00) rotate(-90)"><text x="-0.08" y="-0.60" font-size="14.2" textLength="10.94" lengthAdjust="spacingAndGlyphs">&#x394;</text><text x="12.76" y="0.00" font-size="16" class="s p" font-style="italic" textLength="7.91" lengthAdjust="spacingAndGlyphs">&#x3d5;</text><text x="22.50" y="7.80" font-size="12" class="s" textLength="7.89" lengthAdjust="spacingAndGlyphs">&#x3a8;</text><text x="30.68" y="7.80" font-size="12" textLength="20.87" lengthAdjust="spacingAndGlyphs">500</text><text x="56.87" y="0.00" font-size="14.2" textLength="62.83" lengthAdjust="spacingAndGlyphs">(degrees)</text></g>
<g transform="translate(10.90 413.00) rotate(-90)"><text x="-0.18" y="-0.60" font-size="14.2" textLength="11.05" lengthAdjust="spacingAndGlyphs">&#x394;</text><text x="12.96" y="0.00" font-size="16" class="s p" font-style="italic" textLength="8.01" lengthAdjust="spacingAndGlyphs">&#x3d5;</text><text x="21.93" y="7.70" font-size="12" textLength="19.36" lengthAdjust="spacingAndGlyphs">P-E</text><text x="46.46" y="0.00" font-size="14.2" textLength="63.45" lengthAdjust="spacingAndGlyphs">(degrees)</text></g>
<g transform="translate(360.90 206.00) rotate(-90)"><text x="0.06" y="0.00" font-size="16" class="s p" font-style="italic" textLength="7.91" lengthAdjust="spacingAndGlyphs">&#x3d5;</text><text x="9.70" y="8.00" font-size="12" class="s" textLength="6.78" lengthAdjust="spacingAndGlyphs">&#x3a8;</text><text x="17.37" y="8.00" font-size="12" textLength="21.08" lengthAdjust="spacingAndGlyphs">500</text><text x="44.14" y="0.00" font-size="14.2" textLength="120.70" lengthAdjust="spacingAndGlyphs">trends (degrees yr</text><text x="165.75" y="-7.50" font-size="11" textLength="8.72" lengthAdjust="spacingAndGlyphs">-1</text><text x="177.81" y="0.00" font-size="14.2" textLength="3.51" lengthAdjust="spacingAndGlyphs">)</text></g>
<g transform="translate(361.00 445.50) rotate(-90)"><text x="0.06" y="0.00" font-size="16" class="s p" font-style="italic" textLength="7.91" lengthAdjust="spacingAndGlyphs">&#x3d5;</text><text x="9.13" y="7.70" font-size="12" textLength="19.46" lengthAdjust="spacingAndGlyphs">P-E</text><text x="33.94" y="0.00" font-size="14.2" textLength="121.70" lengthAdjust="spacingAndGlyphs">trends (degrees yr</text><text x="156.98" y="-7.50" font-size="11" textLength="8.27" lengthAdjust="spacingAndGlyphs">-1</text><text x="169.02" y="0.00" font-size="14.2" textLength="3.38" lengthAdjust="spacingAndGlyphs">)</text></g>
</svg></body></html>
